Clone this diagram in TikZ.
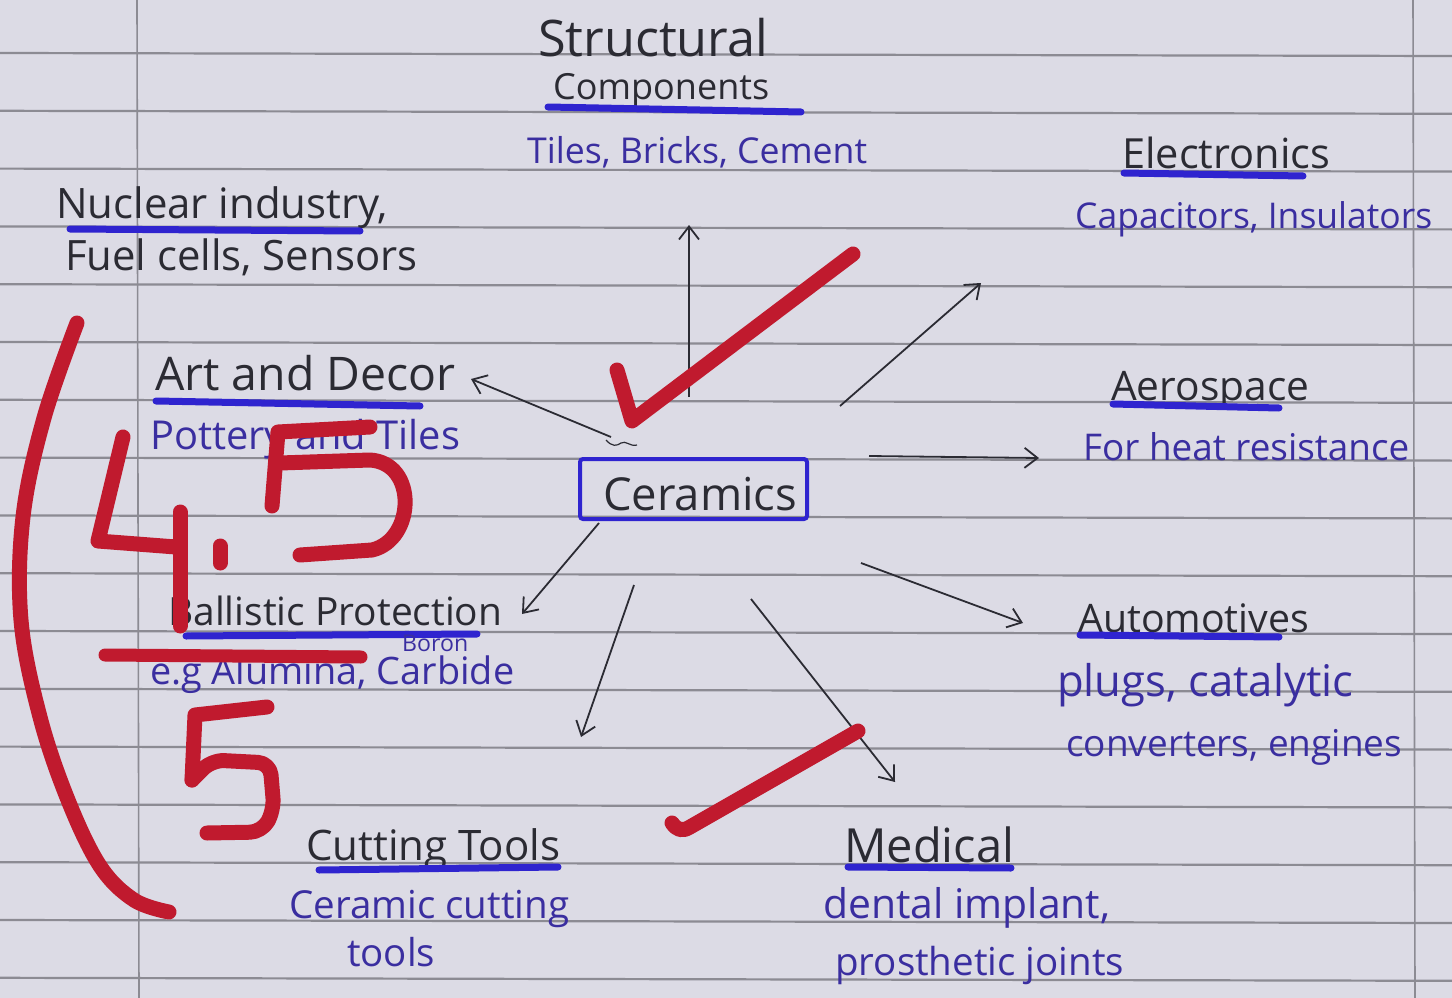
\documentclass[tikz,border=0pt]{standalone}
\usepackage{fontspec}
\setmainfont{Open Sans}
\usetikzlibrary{arrows.meta}
\newcommand\hw[2]{\resizebox{#1pt}{!}{#2}}
\definecolor{paper}{HTML}{DCDBE5}
\definecolor{rulegray}{HTML}{8C8B93}
\definecolor{inkblack}{HTML}{2B2B33}
\definecolor{inkblue}{HTML}{3A2EA0}
\definecolor{hiblue}{HTML}{2F24CF}
\definecolor{redpen}{HTML}{C01A2E}
\begin{document}
\begin{tikzpicture}[x=1pt,y=-1pt,
  rule/.style={draw=rulegray,line width=2.2pt},
  marginline/.style={draw=rulegray,line width=1.6pt},
  txt/.style={inner sep=0pt,anchor=base west},
  blk/.style={txt,text=inkblack},
  blu/.style={txt,text=inkblue},
  ul/.style={draw=hiblue,line width=7pt,line cap=round},
  arr/.style={draw=inkblack,line width=1.8pt,-{Straight Barb[length=13pt,width=20pt,line width=1.8pt]}},
  redmk/.style={draw=redpen,line width=15pt,line cap=round,line join=round}]
\useasboundingbox (0,0) rectangle (1452,998);
\fill[paper] (0,0) rectangle (1452,998);
% ruled paper
\foreach \k in {0,...,16}{
  \draw[rule] (0,{53+57.8*\k}) -- (1452,{56+57.8*\k});
}
\draw[marginline] (137,0) -- (139,998);
\draw[marginline] (1413,0) -- (1415,998);

% ---- texts ----
\node[blk] (struct1) at (538,57) {\hw{230}{Structural}};
\node[blk] (struct2) at (553,100) {\hw{216}{Components}};
\draw[ul] (548,107) -- (801,112);
\node[blu] (structsub) at (527,163) {\hw{340}{Tiles, Bricks, Cement}};

\node[blk] (nuc1) at (56,218) {\hw{332}{Nuclear industry,}};
\draw[ul] (70,229) -- (360,231);
\node[blk] (nuc2) at (65,270) {\hw{352}{Fuel cells, Sensors}};

\node[blk] (elec) at (1122,168) {\hw{208}{Electronics}};
\draw[ul] (1124,173) -- (1303,176);
\node[blu] (elecsub) at (1075,228) {\hw{357}{Capacitors, Insulators}};

\node[blk] (art) at (155,390) {\hw{300}{Art and Decor}};
\draw[ul] (156,401) -- (420,406);
\node[blu] (artsub) at (150,449) {\hw{310}{Pottery and Tiles}};

\node[blk] (aero) at (1111,400) {\hw{198}{Aerospace}};
\draw[ul] (1113,404) -- (1279,408);
\node[blu] (aerosub) at (1083,460) {\hw{326}{For heat resistance}};

\draw[draw=hiblue,line width=4pt,rounded corners=3pt] (580,459) rectangle (807,519);
\node[blk] (cer) at (603,510) {\hw{194}{Ceramics}};

\node[blk] (ball) at (168,625) {\hw{334}{Ballistic Protection}};
\draw[ul] (186,636) -- (477,634);
\node[blu] (boron) at (402,651) {\hw{66}{Boron}};
\node[blu] (ballsub) at (150,684) {\hw{364}{e.g Alumina, Carbide}};

\node[blk] (auto) at (1078,632) {\hw{231}{Automotives}};
\draw[ul] (1080,635) -- (1279,637);
\node[blu] (auto1) at (1057,696) {\hw{296}{plugs, catalytic}};
\node[blu] (auto2) at (1066,756) {\hw{336}{converters, engines}};

\node[blk] (cut) at (306,860) {\hw{254}{Cutting Tools}};
\draw[ul] (319,870) -- (558,867);
\node[blu] (cut1) at (289,918) {\hw{280}{Ceramic cutting}};
\node[blu] (cut2) at (347,966) {\hw{88}{tools}};

\node[blk] (med) at (844,862) {\hw{170}{Medical}};
\draw[ul] (848,867) -- (1011,868);
\node[blu] (med1) at (823,918) {\hw{287}{dental implant,}};
\node[blu] (med2) at (835,975) {\hw{289}{prosthetic joints}};

% ---- arrows ----
\coordinate (upT) at (689,397);   \coordinate (upH) at (689,225);
\coordinate (neT) at (840,406);   \coordinate (neH) at (981,283);
\coordinate (nwT) at (611,437);   \coordinate (nwH) at (471,379);
\coordinate (eT) at (869,456);    \coordinate (eH) at (1039,458);
\coordinate (swT) at (599,523);   \coordinate (swH) at (522,614);
\coordinate (sT) at (634,585);    \coordinate (sH) at (581,737);
\coordinate (seT) at (751,599);   \coordinate (seH) at (895,782);
\coordinate (eseT) at (861,563);  \coordinate (eseH) at (1023,623);
\draw[arr] (upT) -- (upH);
\draw[arr] (neT) -- (neH);
\draw[arr] (nwT) -- (nwH);
\draw[arr] (eT) -- (eH);
\draw[arr] (swT) -- (swH);
\draw[arr] (sT) -- (sH);
\draw[arr] (seT) -- (seH);
\draw[arr] (eseT) -- (eseH);
\draw[inkblack,line width=1.2pt] (606,440) .. controls (612,447) and (617,446) .. (621,443) .. controls (626,440) and (630,447) .. (637,445);

% ---- red grading marks ----
\draw[redmk] (617,370) -- (632,421) -- (853,254);
\draw[redmk] (672,823) .. controls (677,830) and (682,832) .. (690,827) -- (858,731);
\draw[redmk] plot[smooth,tension=0.6] coordinates {(77,323) (44,418) (23,517) (21,620) (40,717) (68,800) (100,866) (134,900) (169,912)};
% 4
\draw[redmk] (123,437) -- (98,541) -- (176,547);
\draw[redmk] (180,512) -- (180,626);
% .
\draw[redmk] (220,546) -- (220,563);
% 5
\draw[redmk] (370,427) -- (278,432) -- (272,506);
\draw[redmk] (280,463) -- (370,460) .. controls (418,463) and (415,540) .. (372,550) -- (300,555);
% fraction bar
\draw[redmk,line width=13pt] (105,655) -- (361,657);
% 5 (denominator)
\draw[redmk] (267,707) -- (195,715) -- (192,780);
\draw[redmk,rounded corners=12pt] (192,780) -- (212,760) -- (270,763) -- (274,810) -- (262,832) -- (207,833);
\end{tikzpicture}
\end{document}
